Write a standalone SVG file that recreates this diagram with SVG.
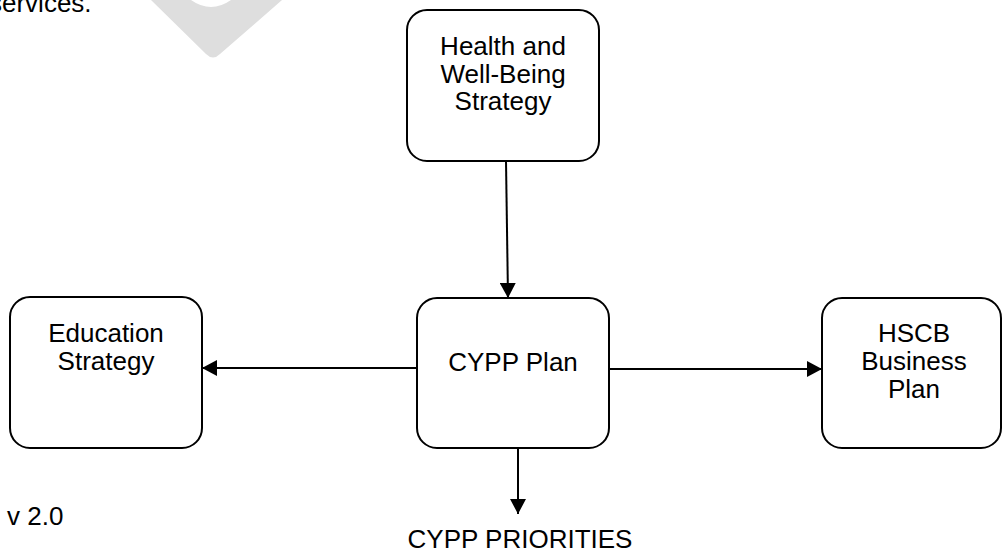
<svg xmlns="http://www.w3.org/2000/svg" width="1003" height="552" viewBox="0 0 1003 552">
<style>
.box{fill:#fff;stroke:#000;stroke-width:2}
.t{font-family:"Liberation Sans",Arial,sans-serif;font-size:26px;fill:#000}
.c{text-anchor:middle}
.conn{stroke:#000;stroke-width:2;fill:none;marker-end:url(#ah)}
</style>
<defs>
<marker id="ah" markerUnits="userSpaceOnUse" markerWidth="16" markerHeight="16" refX="15" refY="8" orient="auto">
<path d="M0,0 L15,8 L0,16 Z" fill="#000"/>
</marker>
</defs>
<rect width="1003" height="552" fill="#fff"/>
<path d="M151,0 L206,54 Q213,61 220,54 L282,0 L231,0 Q211,14 191,0 Z" fill="#dedede"/>
<text class="t" x="-11" y="12">services.</text>
<g id="connectors">
<line class="conn" x1="506" y1="161" x2="508" y2="298"/>
<line class="conn" x1="417" y1="368" x2="202" y2="368"/>
<line class="conn" x1="609" y1="369" x2="822" y2="369"/>
<line class="conn" x1="518" y1="448" x2="518" y2="514"/>
</g>
<g id="health">
<rect class="box" x="407" y="10" width="192" height="151" rx="20"/>
<text class="t c" x="503" y="55">Health and</text>
<text class="t c" x="503" y="83">Well-Being</text>
<text class="t c" x="503" y="110">Strategy</text>
</g>
<g id="education">
<rect class="box" x="10" y="297" width="192" height="151" rx="20"/>
<text class="t c" x="106" y="342">Education</text>
<text class="t c" x="106" y="370">Strategy</text>
</g>
<g id="cypp">
<rect class="box" x="417" y="298" width="192" height="150" rx="20"/>
<text class="t c" x="513" y="371">CYPP Plan</text>
</g>
<g id="hscb">
<rect class="box" x="822" y="298" width="179" height="150" rx="20"/>
<text class="t c" x="914" y="342">HSCB</text>
<text class="t c" x="914" y="370">Business</text>
<text class="t c" x="914" y="398">Plan</text>
</g>
<g id="priorities">
<text class="t c" x="520" y="548">CYPP PRIORITIES</text>
</g>
<text class="t" x="7" y="525">v 2.0</text>
</svg>
